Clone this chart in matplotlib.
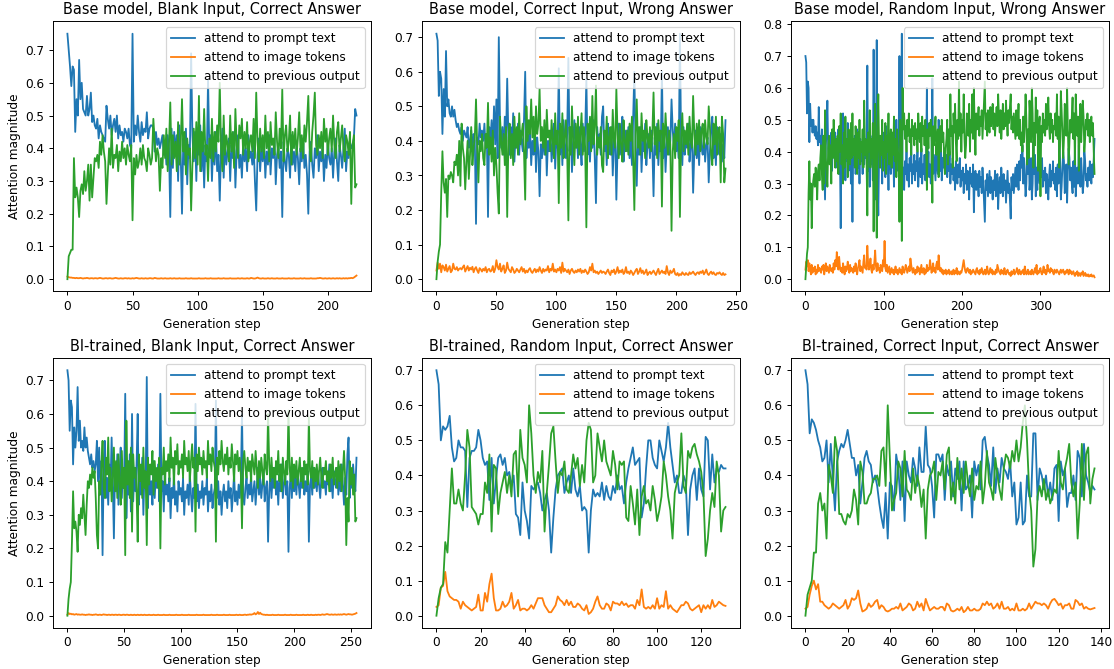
import matplotlib.pyplot as plt

# attention shares per generation step
# prompt text / previous output in hundredths, image tokens in thousandths

titles = [
    "Base model, Blank Input, Correct Answer",
    "Base model, Correct Input, Wrong Answer",
    "Base model, Random Input, Wrong Answer",
    "BI-trained, Blank Input, Correct Answer",
    "BI-trained, Random Input, Correct Answer",
    "BI-trained, Correct Input, Correct Answer",
]
series_labels = ["attend to prompt text", "attend to image tokens", "attend to previous output"]

# --- Base model, Blank Input, Correct Answer ---
base_blank_text = [
    75, 70, 65, 59, 65, 64, 45, 55, 50, 67, 55, 60, 52, 51, 50, 56, 50, 52, 57, 48, 50, 47, 46, 49, 43,
    47, 45, 44, 43, 42, 53, 49, 46, 50, 44, 47, 49, 45, 50, 43, 47, 44, 45, 42, 46, 45, 43, 46, 41, 40,
    75, 42, 47, 44, 50, 45, 42, 48, 44, 46, 45, 51, 43, 46, 47, 47, 46, 39, 45, 41, 43, 40, 42, 44, 38,
    42, 35, 44, 40, 19, 46, 34, 45, 39, 44, 30, 47, 38, 20, 43, 35, 46, 29, 41, 37, 69, 44, 36, 45, 30,
    45, 38, 47, 33, 43, 28, 41, 36, 61, 39, 44, 30, 42, 35, 45, 33, 38, 24, 40, 46, 31, 42, 35, 39, 43,
    30, 41, 37, 45, 28, 39, 44, 34, 38, 31, 42, 36, 40, 33, 44, 37, 39, 35, 41, 30, 21, 38, 43, 33, 40,
    36, 42, 31, 39, 35, 44, 32, 40, 37, 43, 29, 38, 41, 34, 39, 19, 42, 36, 33, 40, 38, 31, 44, 35, 39,
    33, 41, 37, 29, 40, 36, 43, 34, 38, 32, 20, 39, 42, 35, 31, 40, 37, 44, 33, 39, 36, 41, 30, 38, 34,
    42, 37, 35, 40, 31, 39, 43, 36, 30, 41, 38, 34, 40, 46, 33, 39, 37, 42, 40, 41, 43, 52, 50,
]
base_blank_image = [
    8, 6, 5, 5, 4, 4, 3, 4, 3, 3, 4, 3, 2, 3, 3, 4, 3, 2, 3, 3,
    2, 3, 3, 2, 3, 4, 3, 2, 2, 3, 3, 2, 3, 3, 2, 2, 3, 4, 3, 2,
    2, 3, 2, 2, 3, 3, 2, 3, 2, 2, 3, 2, 3, 4, 3, 2, 2, 3, 2, 2,
    3, 2, 2, 3, 3, 2, 2, 4, 3, 2, 2, 2, 3, 2, 2, 3, 2, 2, 2, 3,
    2, 2, 3, 2, 2, 2, 3, 2, 2, 2, 2, 3, 2, 2, 2, 3, 2, 2, 2, 2,
    2, 3, 2, 2, 2, 2, 3, 2, 2, 2, 3, 2, 2, 2, 2, 2, 3, 2, 2, 2,
    3, 2, 2, 2, 2, 3, 2, 2, 2, 2, 2, 3, 2, 2, 3, 2, 2, 2, 3, 2,
    2, 4, 3, 2, 2, 3, 5, 3, 2, 2, 3, 2, 2, 2, 3, 2, 2, 3, 2, 2,
    2, 3, 2, 2, 2, 3, 2, 2, 2, 2, 3, 2, 2, 2, 3, 2, 2, 2, 2, 3,
    2, 2, 3, 2, 2, 2, 2, 3, 2, 2, 2, 2, 3, 3, 4, 3, 2, 2, 3, 2,
    2, 3, 2, 2, 3, 2, 2, 3, 2, 3, 2, 2, 3, 2, 3, 2, 3, 3, 4, 3,
    5, 8, 11,
]
base_blank_prev = [
    0, 7, 8, 9, 9, 37, 25, 28, 25, 19, 27, 29, 26, 33, 27, 30, 35, 24, 35, 25, 31, 37, 36, 38, 34,
    42, 38, 44, 39, 36, 23, 32, 40, 35, 46, 34, 38, 37, 41, 33, 39, 36, 42, 37, 40, 35, 41, 38, 36, 41,
    18, 37, 32, 38, 34, 36, 40, 35, 41, 37, 36, 33, 40, 38, 35, 37, 49, 42, 36, 40, 38, 27, 37, 34, 44,
    37, 46, 33, 41, 54, 35, 44, 37, 42, 33, 48, 35, 41, 55, 39, 45, 32, 43, 38, 40, 21, 35, 46, 37, 48,
    35, 56, 33, 45, 39, 52, 38, 41, 30, 43, 37, 49, 36, 45, 39, 47, 42, 60, 40, 33, 50, 38, 44, 41, 36,
    50, 39, 45, 34, 52, 41, 37, 47, 43, 49, 38, 45, 40, 48, 36, 42, 44, 39, 49, 37, 57, 42, 36, 46, 39,
    44, 37, 50, 40, 45, 36, 48, 41, 43, 38, 51, 42, 37, 46, 40, 58, 36, 44, 47, 39, 42, 50, 35, 45, 40,
    46, 38, 43, 51, 39, 44, 37, 47, 42, 48, 56, 40, 36, 45, 50, 57, 41, 38, 44, 40, 45, 37, 49, 42, 46,
    38, 43, 46, 39, 50, 41, 37, 45, 48, 39, 43, 47, 40, 36, 44, 42, 38, 45, 23, 41, 44, 28, 29,
]

# --- Base model, Correct Input, Wrong Answer ---
base_correct_text = [
    71, 69, 53, 60, 58, 42, 55, 47, 66, 50, 52, 48, 47, 50, 47, 49, 46, 44, 45, 43,
    42, 44, 40, 43, 42, 41, 44, 38, 40, 43, 37, 42, 40, 16, 41, 39, 45, 41, 43, 40,
    45, 38, 42, 18, 44, 40, 46, 37, 50, 39, 52, 35, 70, 45, 38, 44, 36, 47, 40, 58,
    41, 36, 44, 39, 48, 34, 42, 38, 45, 36, 43, 40, 37, 46, 60, 35, 42, 38, 44, 33,
    40, 36, 45, 31, 41, 37, 24, 39, 35, 42, 36, 44, 30, 40, 37, 43, 34, 39, 45, 32,
    41, 38, 61, 36, 43, 33, 46, 39, 35, 42, 64, 37, 44, 31, 40, 46, 38, 42, 35, 44,
    39, 33, 45, 37, 42, 58, 36, 41, 34, 43, 38, 46, 35, 22, 44, 39, 42, 36, 47, 50,
    37, 41, 33, 45, 39, 36, 44, 30, 40, 42, 23, 38, 45, 36, 41, 47, 34, 39, 43, 37,
    44, 35, 40, 33, 46, 60, 38, 27, 42, 36, 44, 31, 40, 37, 45, 33, 39, 42, 35, 43,
    38, 24, 41, 36, 45, 33, 40, 37, 60, 35, 42, 31, 39, 44, 36, 40, 52, 43, 38, 45,
    37, 41, 35, 71, 39, 33, 44, 36, 40, 38, 45, 34, 39, 42, 25, 37, 43, 35, 40, 33,
    44, 38, 36, 42, 34, 39, 41, 28, 37, 43, 47, 35, 40, 33, 44, 38, 36, 42, 34, 39,
    35, 46,
]
base_correct_image = [
    25, 48, 30, 45, 20, 40, 35, 25, 42, 22, 30, 38, 20, 25, 45, 30, 28, 35, 25, 30,
    32, 28, 35, 40, 22, 30, 38, 25, 33, 28, 36, 20, 30, 35, 25, 18, 32, 28, 22, 30,
    25, 35, 20, 28, 30, 22, 25, 38, 20, 30, 55, 35, 28, 45, 22, 30, 40, 18, 25, 48,
    30, 25, 20, 35, 28, 18, 22, 30, 25, 20, 28, 35, 22, 30, 18, 25, 20, 28, 32, 22,
    18, 25, 30, 20, 28, 22, 35, 25, 18, 30, 22, 28, 25, 38, 20, 30, 25, 45, 22, 28,
    20, 30, 25, 35, 18, 48, 22, 30, 25, 20, 28, 15, 25, 30, 22, 18, 25, 20, 28, 22,
    30, 18, 25, 20, 28, 22, 15, 20, 35, 25, 45, 20, 25, 18, 22, 15, 20, 25, 18, 22,
    20, 15, 22, 28, 18, 12, 25, 20, 28, 15, 22, 35, 18, 25, 20, 28, 15, 20, 35, 18,
    22, 15, 25, 20, 12, 18, 25, 30, 15, 22, 32, 18, 25, 15, 20, 28, 12, 18, 22, 15,
    20, 25, 18, 12, 22, 30, 15, 20, 25, 18, 22, 15, 38, 20, 12, 25, 18, 22, 30, 15,
    12, 18, 10, 15, 12, 20, 15, 12, 18, 14, 12, 20, 15, 18, 22, 16, 12, 18, 20, 15,
    22, 18, 25, 14, 20, 28, 16, 12, 18, 22, 15, 20, 14, 12, 18, 16, 20, 15, 12, 18,
    12, 14,
]
base_correct_prev = [
    0, 5, 8, 10, 25, 37, 28, 25, 29, 18, 30, 29, 31, 30, 28, 34, 33, 36, 30, 40,
    27, 45, 38, 35, 26, 34, 40, 29, 36, 44, 33, 38, 41, 52, 38, 28, 40, 37, 42, 35,
    33, 42, 38, 51, 36, 41, 34, 43, 30, 38, 33, 25, 19, 47, 40, 36, 42, 33, 44, 18,
    40, 45, 35, 42, 33, 47, 38, 44, 36, 48, 39, 42, 45, 37, 23, 50, 40, 46, 42, 52,
    41, 47, 37, 50, 42, 45, 55, 40, 44, 38, 46, 36, 49, 41, 43, 37, 46, 40, 35, 48,
    39, 43, 22, 45, 38, 48, 35, 41, 46, 37, 17, 44, 36, 50, 40, 33, 45, 38, 47, 36,
    42, 48, 36, 44, 38, 15, 45, 40, 47, 37, 53, 39, 44, 56, 36, 41, 38, 44, 33, 31,
    43, 39, 47, 35, 41, 44, 36, 49, 40, 38, 55, 42, 35, 45, 39, 34, 46, 40, 37, 43,
    36, 45, 40, 47, 35, 20, 42, 52, 38, 44, 36, 48, 40, 43, 35, 46, 41, 38, 44, 37,
    42, 54, 39, 44, 35, 46, 40, 43, 21, 45, 38, 48, 41, 36, 43, 39, 14, 37, 42, 35,
    44, 40, 46, 18, 41, 48, 37, 43, 39, 45, 36, 47, 40, 38, 53, 42, 36, 45, 39, 46,
    37, 43, 45, 38, 46, 41, 39, 50, 44, 36, 33, 45, 39, 47, 36, 43, 44, 28, 47, 42,
    28, 32,
]

# --- Base model, Random Input, Wrong Answer ---
base_random_text = [
    70, 68, 52, 62, 60, 43, 55, 48, 50, 46, 50, 47, 45, 48, 44, 46, 42, 54, 43, 45,
    40, 47, 38, 44, 35, 25, 42, 46, 56, 41, 37, 44, 39, 46, 34, 45, 40, 38, 46, 35,
    42, 36, 47, 33, 40, 16, 44, 38, 52, 35, 47, 31, 43, 37, 49, 34, 40, 44, 30, 42,
    18, 41, 36, 45, 33, 39, 47, 35, 42, 30, 44, 37, 40, 33, 46, 36, 41, 38, 44, 67,
    34, 40, 29, 45, 36, 42, 31, 72, 38, 25, 44, 75, 33, 20, 39, 45, 35, 41, 30, 46,
    37, 43, 32, 48, 36, 40, 28, 44, 38, 33, 46, 35, 41, 29, 43, 37, 50, 34, 40, 45,
    70, 33, 41, 77, 30, 35, 28, 37, 33, 40, 31, 36, 29, 38, 34, 42, 30, 36, 33, 39,
    31, 37, 34, 40, 29, 35, 38, 32, 41, 30, 36, 33, 39, 31, 37, 60, 34, 40, 32, 36,
    30, 38, 63, 33, 39, 35, 31, 42, 36, 33, 50, 37, 34, 40, 31, 38, 35, 41, 33, 36,
    39, 32, 37, 34, 40, 30, 36, 33, 38, 31, 35, 28, 37, 33, 30, 36, 32, 38, 29, 34,
    31, 35, 27, 33, 30, 36, 28, 34, 32, 25, 35, 30, 33, 29, 36, 21, 31, 34, 28, 33,
    30, 26, 34, 29, 32, 27, 35, 30, 24, 18, 31, 28, 33, 26, 30, 34, 27, 32, 29, 25,
    31, 28, 34, 26, 30, 33, 22, 29, 32, 27, 35, 30, 26, 33, 28, 31, 24, 29, 34, 27,
    30, 25, 19, 32, 28, 33, 27, 31, 35, 29, 36, 33, 28, 37, 31, 39, 35, 42, 30, 38,
    32, 26, 30, 42, 33, 45, 28, 31, 38, 25, 30, 43, 33, 39, 26, 35, 28, 42, 33, 30,
    36, 32, 38, 29, 34, 31, 35, 27, 33, 30, 25, 32, 36, 29, 34, 31, 37, 30, 33, 28,
    35, 26, 36, 30, 42, 38, 25, 29, 35, 40, 37, 27, 30, 36, 24, 34, 41, 38, 31, 35,
    30, 27, 37, 29, 41, 26, 31, 35, 30, 42, 33, 29, 38, 32, 27, 30, 40, 37, 31, 33,
    29, 35, 31, 37, 33, 30, 36, 32, 38, 44,
]
base_random_image = [
    30, 55, 40, 60, 25, 50, 30, 15, 45, 20, 35, 25, 40, 15, 30, 20, 45, 25, 35, 30,
    20, 40, 30, 45, 15, 35, 50, 25, 40, 30, 20, 45, 30, 25, 35, 20, 50, 30, 60, 40,
    85, 55, 30, 70, 40, 25, 35, 20, 50, 30, 15, 40, 25, 35, 55, 30, 20, 45, 25, 35,
    30, 20, 40, 25, 50, 30, 15, 35, 45, 60, 25, 40, 30, 20, 55, 75, 35, 40, 30, 105,
    50, 30, 40, 65, 30, 20, 45, 30, 55, 90, 40, 25, 50, 30, 35, 20, 45, 30, 25, 60,
    40, 120, 35, 25, 45, 20, 30, 40, 15, 25, 35, 20, 30, 15, 25, 40, 20, 30, 15, 25,
    35, 20, 30, 15, 40, 25, 20, 30, 45, 35, 20, 30, 40, 25, 65, 45, 30, 20, 35, 25,
    15, 30, 20, 40, 25, 35, 15, 30, 45, 20, 25, 35, 15, 30, 20, 45, 25, 35, 30, 60,
    40, 20, 30, 50, 25, 35, 20, 45, 55, 30, 75, 40, 25, 35, 20, 30, 15, 25, 20, 30,
    15, 25, 20, 30, 15, 20, 25, 15, 20, 30, 15, 25, 20, 35, 15, 25, 20, 15, 25, 20,
    30, 45, 60, 40, 25, 20, 30, 35, 25, 20, 30, 15, 25, 20, 30, 25, 20, 15, 30, 35,
    20, 25, 15, 30, 20, 35, 25, 15, 20, 30, 15, 25, 40, 20, 15, 25, 35, 20, 30, 15,
    25, 20, 15, 30, 20, 45, 35, 25, 20, 15, 30, 20, 25, 15, 35, 20, 15, 25, 30, 20,
    15, 20, 10, 25, 15, 20, 30, 15, 20, 25, 35, 20, 15, 30, 20, 15, 25, 20, 30, 15,
    40, 25, 15, 20, 30, 15, 20, 25, 15, 30, 20, 15, 25, 35, 20, 45, 15, 25, 20, 30,
    35, 20, 15, 25, 40, 20, 30, 15, 20, 45, 25, 30, 20, 35, 25, 30, 20, 15, 30, 25,
    20, 30, 25, 20, 15, 25, 30, 20, 25, 30, 20, 15, 25, 20, 30, 25, 15, 30, 20, 25,
    15, 20, 25, 15, 10, 20, 15, 25, 10, 20, 15, 10, 20, 15, 25, 10, 15, 20, 10, 15,
    10, 15, 8, 12, 10, 15, 8, 10, 12, 6,
]
base_random_prev = [
    0, 4, 8, 10, 27, 37, 25, 30, 16, 28, 31, 33, 29, 35, 32, 25, 34, 36, 31, 38,
    42, 33, 28, 45, 30, 53, 38, 34, 29, 41, 45, 36, 42, 30, 47, 38, 50, 41, 35, 44,
    37, 45, 33, 48, 40, 52, 36, 42, 30, 46, 35, 51, 38, 44, 32, 47, 41, 36, 49, 38,
    52, 39, 44, 35, 48, 41, 33, 46, 38, 50, 36, 43, 40, 47, 35, 56, 39, 44, 37, 20,
    46, 40, 53, 35, 44, 38, 49, 15, 42, 55, 36, 13, 47, 58, 41, 35, 45, 39, 50, 34,
    43, 38, 49, 33, 45, 40, 52, 36, 43, 47, 35, 46, 39, 51, 37, 44, 32, 47, 41, 36,
    18, 50, 42, 12, 60, 47, 52, 44, 48, 40, 50, 45, 52, 43, 47, 39, 50, 45, 48, 42,
    49, 44, 47, 40, 52, 46, 43, 49, 40, 51, 45, 48, 42, 50, 44, 28, 47, 41, 49, 45,
    50, 43, 24, 48, 42, 46, 51, 39, 44, 47, 32, 45, 48, 40, 50, 43, 46, 39, 33, 41,
    44, 50, 36, 47, 39, 58, 45, 48, 35, 52, 46, 55, 43, 37, 50, 44, 62, 45, 52, 40,
    50, 46, 58, 44, 38, 42, 52, 47, 45, 55, 40, 50, 46, 58, 44, 60, 48, 39, 52, 47,
    50, 54, 45, 51, 48, 53, 44, 50, 56, 62, 47, 52, 45, 53, 49, 46, 54, 48, 51, 55,
    47, 52, 45, 50, 54, 48, 58, 51, 46, 53, 44, 49, 55, 47, 52, 48, 56, 50, 45, 53,
    49, 54, 58, 47, 51, 46, 52, 48, 44, 53, 45, 49, 55, 44, 50, 42, 46, 40, 51, 43,
    49, 58, 50, 36, 47, 38, 56, 51, 43, 60, 52, 35, 49, 42, 57, 46, 53, 34, 48, 51,
    26, 48, 43, 52, 46, 50, 45, 55, 47, 49, 57, 48, 44, 52, 46, 50, 43, 48, 47, 52,
    45, 58, 44, 51, 35, 42, 59, 53, 46, 38, 44, 55, 51, 45, 60, 47, 36, 43, 50, 46,
    51, 57, 44, 52, 36, 58, 50, 45, 51, 34, 48, 55, 43, 49, 56, 51, 40, 44, 50, 47,
    52, 45, 50, 43, 48, 51, 45, 49, 40, 33,
]

# --- BI-trained, Blank Input, Correct Answer ---
bi_blank_text = [
    73, 70, 55, 64, 62, 45, 56, 50, 55, 68, 52, 58, 50, 52, 49, 56, 50, 53, 49, 47,
    45, 48, 44, 46, 43, 45, 52, 40, 50, 38, 46, 18, 45, 52, 35, 41, 33, 45, 38, 53,
    40, 23, 44, 37, 48, 33, 42, 50, 35, 44, 38, 66, 29, 43, 36, 48, 31, 60, 34, 42,
    37, 45, 60, 33, 41, 36, 47, 30, 43, 38, 71, 32, 44, 36, 40, 33, 46, 35, 42, 38,
    45, 34, 66, 37, 40, 31, 43, 36, 39, 34, 41, 29, 38, 35, 42, 33, 37, 31, 40, 36,
    38, 34, 41, 30, 37, 35, 39, 33, 42, 36, 31, 38, 35, 63, 34, 39, 32, 37, 35, 40,
    33, 38, 36, 41, 31, 37, 34, 39, 32, 36, 38, 64, 35, 40, 33, 37, 30, 36, 39, 34,
    37, 32, 40, 35, 38, 31, 36, 42, 34, 37, 33, 39, 35, 40, 60, 36, 33, 38, 41, 35,
    39, 36, 42, 34, 37, 40, 33, 38, 44, 36, 41, 35, 39, 43, 34, 38, 40, 22, 37, 42,
    35, 41, 38, 44, 36, 40, 33, 42, 37, 45, 35, 39, 43, 36, 40, 19, 38, 42, 35, 44,
    37, 41, 36, 43, 39, 35, 42, 38, 44, 36, 40, 37, 43, 22, 39, 41, 36, 44, 38, 42,
    37, 43, 39, 35, 41, 44, 38, 40, 36, 42, 39, 45, 37, 41, 35, 43, 40, 38, 44, 36,
    42, 37, 45, 39, 33, 41, 36, 48, 53, 35, 43, 38, 45, 40, 37, 47,
]
bi_blank_image = [
    3, 8, 5, 6, 4, 5, 3, 4, 5, 3, 4, 3, 3, 4, 3, 3, 2, 3, 3, 4,
    3, 3, 2, 3, 3, 4, 3, 2, 3, 3, 2, 3, 4, 3, 3, 2, 3, 3, 2, 3,
    3, 2, 3, 3, 2, 3, 3, 2, 2, 3, 3, 2, 3, 3, 2, 2, 3, 2, 2, 3,
    2, 2, 3, 2, 2, 3, 2, 2, 3, 2, 2, 2, 3, 2, 2, 2, 3, 2, 2, 2,
    3, 2, 2, 2, 2, 3, 2, 2, 2, 2, 3, 2, 2, 2, 2, 2, 3, 2, 2, 2,
    2, 3, 2, 2, 2, 2, 2, 3, 2, 2, 2, 2, 2, 2, 3, 2, 2, 2, 2, 2,
    3, 2, 2, 2, 2, 2, 2, 3, 2, 2, 2, 2, 3, 2, 2, 2, 2, 2, 3, 2,
    2, 2, 2, 3, 2, 2, 2, 2, 2, 3, 2, 2, 3, 2, 2, 2, 3, 3, 2, 3,
    3, 4, 3, 4, 5, 8, 4, 6, 11, 5, 9, 5, 4, 3, 3, 2, 3, 2, 2, 2,
    2, 3, 2, 2, 2, 2, 3, 2, 2, 2, 2, 2, 3, 2, 2, 2, 2, 3, 2, 2,
    2, 2, 3, 2, 2, 2, 2, 2, 3, 2, 2, 2, 3, 2, 2, 3, 2, 2, 2, 3,
    2, 3, 3, 2, 3, 4, 3, 3, 4, 5, 4, 3, 3, 4, 3, 3, 4, 3, 3, 4,
    3, 4, 3, 4, 5, 4, 3, 4, 5, 4, 4, 3, 4, 5, 6, 8,
]
bi_blank_prev = [
    0, 5, 8, 10, 22, 37, 26, 28, 25, 19, 30, 27, 32, 29, 36, 30, 24, 33, 40, 38,
    42, 39, 44, 41, 43, 35, 24, 20, 40, 36, 45, 52, 38, 35, 47, 42, 53, 37, 44, 34,
    41, 50, 37, 46, 35, 48, 40, 33, 49, 38, 44, 18, 58, 39, 46, 35, 50, 25, 48, 41,
    44, 37, 22, 48, 40, 45, 35, 50, 38, 43, 21, 47, 39, 45, 42, 49, 36, 46, 40, 44,
    38, 47, 20, 44, 42, 50, 39, 46, 43, 48, 40, 53, 44, 47, 39, 49, 45, 51, 42, 46,
    44, 48, 41, 52, 45, 47, 43, 49, 40, 46, 51, 44, 47, 25, 48, 43, 50, 45, 47, 42,
    49, 44, 46, 41, 52, 45, 48, 43, 50, 46, 44, 22, 47, 42, 49, 45, 52, 46, 43, 48,
    45, 50, 42, 47, 44, 51, 46, 40, 48, 45, 49, 43, 47, 42, 26, 46, 49, 44, 41, 47,
    43, 46, 40, 48, 45, 42, 49, 44, 38, 46, 41, 47, 43, 39, 48, 44, 42, 60, 45, 40,
    47, 41, 44, 38, 46, 42, 49, 40, 45, 37, 47, 43, 39, 46, 42, 61, 44, 40, 47, 38,
    45, 41, 46, 39, 43, 47, 40, 44, 38, 46, 42, 45, 39, 59, 43, 41, 46, 38, 44, 40,
    45, 39, 43, 47, 41, 38, 44, 42, 46, 40, 43, 37, 45, 41, 47, 39, 42, 44, 38, 46,
    40, 45, 37, 43, 49, 41, 21, 35, 28, 46, 39, 44, 36, 42, 28, 29,
]

# --- BI-trained, Random Input, Correct Answer ---
bi_random_text = [
    70, 66, 50, 54, 53, 54, 57, 48, 44, 45, 50, 48, 48, 47, 31, 45, 47, 47, 48, 53,
    50, 45, 43, 44, 33, 45, 32, 39, 45, 46, 43, 45, 40, 41, 37, 40, 29, 28, 23, 38,
    30, 27, 22, 37, 36, 37, 38, 35, 30, 33, 35, 30, 18, 28, 36, 40, 41, 42, 35, 38,
    40, 35, 42, 36, 34, 37, 30, 31, 30, 18, 30, 36, 34, 35, 34, 38, 33, 37, 34, 33,
    37, 35, 40, 36, 37, 32, 38, 42, 45, 48, 43, 44, 45, 28, 32, 42, 50, 50, 45, 43,
    42, 50, 47, 44, 48, 55, 48, 43, 38, 40, 35, 35, 40, 38, 23, 36, 40, 42, 33, 42,
    36, 34, 51, 50, 36, 46, 38, 42, 41, 43, 42, 42,
]
bi_random_image = [
    25, 30, 80, 85, 125, 70, 55, 50, 45, 45, 40, 20, 40, 30, 25, 20, 15, 20, 25, 60,
    15, 15, 65, 40, 90, 120, 50, 15, 15, 20, 40, 25, 30, 40, 65, 20, 30, 45, 15, 20,
    20, 15, 20, 30, 20, 35, 50, 50, 50, 30, 20, 10, 10, 20, 30, 55, 45, 40, 30, 45,
    30, 40, 25, 25, 35, 30, 20, 15, 30, 5, 10, 20, 40, 55, 30, 20, 20, 35, 30, 15,
    40, 35, 35, 30, 40, 30, 35, 25, 30, 30, 20, 45, 30, 75, 25, 20, 25, 20, 30, 20,
    50, 20, 30, 25, 70, 20, 30, 20, 15, 10, 20, 30, 30, 40, 35, 20, 15, 20, 25, 30,
    10, 30, 20, 30, 20, 45, 25, 30, 40, 35, 30, 28,
]
bi_random_prev = [
    0, 5, 8, 9, 21, 18, 30, 42, 32, 32, 36, 32, 30, 40, 53, 48, 31, 30, 29, 26,
    29, 29, 38, 35, 46, 24, 43, 42, 29, 35, 38, 41, 35, 40, 34, 46, 47, 34, 53, 45,
    43, 38, 60, 52, 40, 35, 41, 38, 47, 24, 35, 43, 52, 54, 44, 35, 41, 40, 44, 36,
    35, 40, 46, 42, 45, 37, 43, 38, 50, 55, 53, 38, 40, 52, 48, 44, 50, 44, 42, 40,
    47, 43, 36, 44, 43, 44, 28, 27, 37, 32, 26, 36, 23, 34, 37, 32, 33, 30, 37, 33,
    27, 30, 34, 44, 40, 34, 30, 22, 35, 38, 40, 52, 37, 35, 47, 45, 48, 49, 46, 44,
    41, 35, 17, 22, 30, 35, 31, 44, 40, 24, 30, 31,
]

# --- BI-trained, Correct Input, Correct Answer ---
bi_correct_text = [
    70, 66, 52, 56, 55, 53, 50, 48, 44, 45, 50, 38, 49, 39, 30, 44, 47, 49, 48, 50,
    53, 49, 45, 45, 40, 43, 32, 38, 45, 47, 44, 43, 38, 40, 37, 32, 28, 25, 35, 22,
    38, 37, 30, 46, 42, 33, 44, 27, 44, 40, 38, 45, 42, 37, 48, 41, 41, 54, 43, 42,
    37, 28, 46, 46, 44, 46, 33, 43, 40, 44, 34, 42, 39, 44, 30, 44, 36, 37, 40, 28,
    44, 40, 43, 36, 50, 51, 46, 43, 37, 48, 35, 42, 38, 45, 42, 41, 39, 44, 34, 38,
    26, 28, 38, 26, 27, 40, 34, 34, 52, 52, 33, 42, 40, 36, 40, 34, 38, 33, 42, 43,
    27, 44, 40, 42, 31, 35, 35, 40, 33, 47, 45, 34, 49, 40, 38, 35, 37, 36,
]
bi_correct_image = [
    20, 25, 60, 85, 100, 75, 90, 40, 40, 30, 25, 20, 25, 35, 30, 25, 20, 25, 30, 45,
    20, 30, 50, 45, 50, 72, 35, 12, 15, 20, 35, 25, 30, 40, 45, 20, 30, 25, 15, 12,
    15, 20, 20, 25, 20, 35, 15, 20, 25, 35, 30, 15, 20, 40, 25, 35, 15, 48, 30, 15,
    20, 25, 20, 20, 25, 25, 15, 35, 30, 15, 12, 15, 20, 15, 25, 10, 15, 25, 15, 15,
    20, 15, 15, 20, 35, 30, 40, 30, 35, 20, 25, 35, 20, 40, 20, 20, 25, 15, 20, 15,
    35, 15, 15, 20, 15, 20, 35, 20, 30, 40, 35, 35, 30, 35, 30, 20, 35, 45, 48, 40,
    30, 35, 20, 30, 30, 35, 20, 20, 45, 40, 30, 35, 20, 25, 20, 18, 20, 22,
]
bi_correct_prev = [
    0, 6, 8, 10, 18, 18, 32, 35, 30, 32, 22, 43, 40, 35, 51, 47, 29, 29, 27, 26,
    29, 28, 30, 36, 33, 26, 44, 41, 32, 32, 34, 35, 39, 39, 40, 37, 47, 48, 37, 60,
    45, 30, 33, 35, 44, 42, 34, 47, 36, 35, 33, 42, 35, 40, 37, 31, 36, 22, 36, 40,
    41, 44, 33, 41, 40, 44, 36, 46, 48, 33, 38, 32, 45, 36, 42, 35, 44, 38, 34, 42,
    33, 37, 36, 44, 32, 37, 47, 38, 36, 33, 45, 40, 36, 33, 42, 46, 45, 42, 47, 44,
    50, 44, 48, 55, 60, 50, 36, 30, 14, 19, 34, 37, 34, 39, 33, 36, 32, 34, 36, 35,
    47, 38, 36, 42, 45, 49, 38, 34, 38, 22, 32, 49, 33, 46, 48, 32, 39, 42,
]

panels = [
    (base_blank_text, base_blank_image, base_blank_prev),
    (base_correct_text, base_correct_image, base_correct_prev),
    (base_random_text, base_random_image, base_random_prev),
    (bi_blank_text, bi_blank_image, bi_blank_prev),
    (bi_random_text, bi_random_image, bi_random_prev),
    (bi_correct_text, bi_correct_image, bi_correct_prev),
]

fig, axes = plt.subplots(2, 3, figsize=(12.816, 7.69), dpi=87)
plt.subplots_adjust(left=0.0475, right=0.9946, bottom=0.0613, top=0.9679,
                    wspace=0.1605, hspace=0.2463)

for ax, title, (text, image, prev) in zip(axes.flat, titles, panels):
    ax.plot(range(len(text)), [v / 100 for v in text], label=series_labels[0])
    ax.plot(range(len(image)), [v / 1000 for v in image], label=series_labels[1])
    ax.plot(range(len(prev)), [v / 100 for v in prev], label=series_labels[2])
    ax.set_title(title)
    ax.set_xlabel("Generation step")
    ax.legend(loc="upper right")

for ax in axes[:, 0]:
    ax.set_ylabel("Attention magnitude")

fig.savefig("out.png", dpi=87)
